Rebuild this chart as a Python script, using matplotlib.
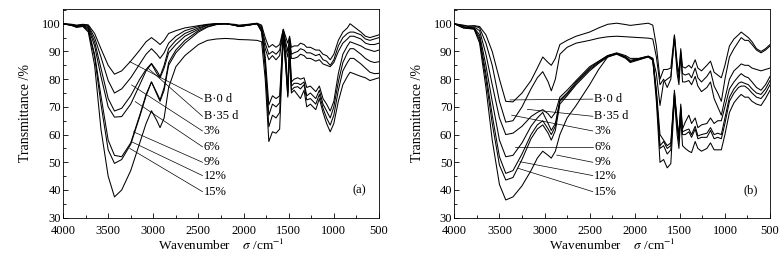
import matplotlib.pyplot as plt
from matplotlib.ticker import MultipleLocator

plt.rcParams["font.family"] = "Liberation Serif"
plt.rcParams["mathtext.fontset"] = "stix"
plt.rcParams["font.size"] = 9

# Wavenumber grid (cm-1) shared by all spectra
wavenumber = [4000, 3900, 3850, 3780, 3720, 3650, 3580, 3500, 3430, 3350,
              3250, 3150, 3080, 3020, 2960, 2925, 2880, 2830, 2750, 2650,
              2500, 2400, 2300, 2200, 2100, 2050, 1950, 1850, 1800, 1760,
              1720, 1680, 1640, 1600, 1560, 1530, 1510, 1490, 1470, 1440,
              1400, 1370, 1330, 1300, 1260, 1200, 1160, 1120, 1080, 1040,
              1000, 950, 900, 850, 820, 780, 740, 700, 650, 600,
              550, 500]

labels = ["B·0 d", "B·35 d", "3%", "6%", "9%", "12%", "15%"]

# Panel (a) transmittance (%)
a_b0 = [100, 99.8, 99.5, 99.8, 99.6, 96.5, 91, 85, 81.8, 83,
        86.5, 90.5, 93.5, 95, 93.5, 92.5, 94, 96.5, 97.5, 98.5,
        99.3, 99.8, 100, 100, 99.8, 99.5, 99.8, 100.2, 99.5, 95,
        91.5, 92.5, 91.5, 92.5, 98, 95, 93, 95.5, 91.5, 92,
        92, 93, 92.5, 91.5, 91.5, 90.5, 90.5, 89, 88.5, 87,
        89, 94, 97, 98.5, 100, 99, 98, 97, 95.5, 95,
        95.5, 96]
a_b35 = [100, 99.7, 99.3, 99.7, 99.3, 95, 88, 79.5, 75, 76.5,
         80.5, 85.5, 89, 91, 89, 87.5, 89.5, 93, 95.5, 97.5,
         99, 99.7, 100, 100, 99.6, 99.3, 99.7, 100.1, 99, 93,
         89, 90, 89, 90.5, 98, 93, 90, 95, 89, 89.5,
         90, 91, 90.5, 89.5, 89.5, 88.5, 89, 87, 86.5, 85,
         87, 92, 95, 96.5, 97, 97, 96.5, 96, 94.5, 94,
         94.5, 95]
a_3 = [100, 99.5, 99, 99.5, 99, 93.5, 84, 73, 68.5, 69.5,
       74, 80, 83.5, 85.7, 83, 81, 85, 91, 94, 96.5,
       98.5, 99.5, 100, 100, 99.5, 99, 99.5, 100, 98.5, 91,
       87, 88.5, 87, 88.5, 97.5, 91, 88, 94, 87.5, 87.5,
       88, 89, 88.5, 87.5, 87.5, 86.5, 87, 85.5, 85, 84.5,
       86, 90, 93, 94.5, 95.5, 95.5, 95, 94.5, 93, 92.5,
       92.5, 93]
a_6 = [100, 99.5, 99, 99.4, 98.5, 92, 81, 70, 66.3, 66.5,
       71, 78, 83, 85.5, 82, 80.5, 84, 89.5, 92.5, 95.5,
       98, 99.5, 100, 100, 99.5, 99, 99.5, 100, 98, 88,
       70.7, 74, 73, 74, 97, 88, 76, 93, 79, 80,
       80.5, 80, 80.5, 77, 77.5, 75.5, 77.5, 73, 71, 68.5,
       72, 82, 89, 92, 93.5, 93, 92.5, 92, 91, 90.5,
       90, 90.5]
a_9 = [100, 99.5, 99, 99.3, 98, 89, 74, 58, 52.5, 52,
       57, 67, 74.5, 79, 75, 72.5, 77, 86, 90.5, 94,
       97.5, 99, 99.8, 100, 99.5, 99, 99.5, 100, 97.5, 86,
       67, 71, 70, 71.5, 96.5, 86, 75, 92, 77.5, 78.5,
       78.5, 78, 79, 74, 75, 73, 76, 71, 68.5, 66,
       70, 79, 86, 89.5, 91, 91, 90, 89, 87.5, 86.5,
       86, 86.3]
a_12 = [100, 99.4, 98.8, 99.2, 97.5, 88, 71, 54.5, 49.6, 51,
        56.5, 66.5, 74, 79, 74.5, 72, 76, 85, 89.5, 93,
        97, 98.8, 99.7, 100, 99.5, 99, 99.5, 100, 97, 84,
        62.8, 67, 66, 68, 96, 84, 74, 91, 76, 77,
        77.3, 76.5, 78, 72.5, 73, 71, 74.5, 69.5, 66, 63.4,
        67, 76, 83, 86, 87.5, 87.5, 86.5, 85.5, 84, 82.5,
        82, 82.1]
a_15 = [100, 99.3, 98.7, 99, 97, 85, 62, 45, 37.5, 40,
        47, 57, 64, 68.6, 65, 62.5, 66, 77, 84.5, 88.5,
        92.5, 94, 94.5, 94.7, 94.5, 94.3, 94.2, 94, 93.5, 80,
        57.5, 61, 60.5, 62, 95, 83, 73.5, 89.5, 75, 76,
        74.3, 73, 76, 70, 71, 69, 73, 68, 64, 61,
        64, 72, 78, 81, 82.5, 82, 81.5, 81, 80.5, 79.5,
        80, 80.5]

# Panel (b) transmittance (%)
b_b0 = [100, 99.5, 99.2, 99.3, 99, 96, 90, 80, 72, 71.8,
        75, 79.5, 84, 88, 86, 85, 87.5, 92.5, 94, 95.5,
        97, 98.5, 99.8, 100.2, 99.7, 99.4, 99.8, 100.2, 99.5, 92,
        80, 83.5, 83.5, 84, 96, 86, 82, 91, 84.5, 84,
        85, 84, 87, 84, 83, 85, 86.5, 82.5, 81.5, 80.5,
        85, 92, 94.5, 96, 97, 96, 95, 93.5, 91, 90,
        91, 92.5]
b_b35 = [100, 99.3, 99, 99.2, 98.5, 93, 85, 72, 64.5, 65,
         70, 76.5, 80.5, 82.7, 79, 75.8, 80, 89, 91.5, 93,
         94, 94.8, 95.3, 95.5, 95.3, 95.2, 95, 94.8, 94.5, 88,
         78, 80, 77, 80, 95.5, 84, 80, 90, 82, 81.5,
         82, 80.5, 84, 80.5, 79, 81, 83, 77.5, 75, 72,
         80, 88, 91, 93.5, 95, 94, 94, 92.5, 90.5, 89.5,
         90.5, 92]
b_3 = [100, 99, 98.5, 98.8, 97.5, 89, 78, 66, 60, 60.5,
       63, 66.5, 68, 69, 67.5, 66, 68, 73.5, 76, 79.5,
       84.5, 86.5, 88.5, 89.5, 88.5, 87.5, 87.5, 88.3, 87.5, 82,
       70.5, 79, 80, 81, 95, 82, 78, 89, 79, 79,
       79.5, 78, 81, 77.5, 75.5, 77, 79, 73, 70, 67,
       73, 80, 83, 84.5, 85.5, 85, 85, 84, 83.5, 83,
       83.5, 84]
b_6 = [100, 98.8, 98.5, 98.5, 96, 85, 72, 58, 52, 52.5,
       57, 63, 66, 68, 64, 61.5, 64, 72.5, 75, 79,
       84, 86.3, 88.5, 89.3, 88, 86.8, 87.5, 88.3, 87.5, 76,
       60, 58, 56, 57, 76, 65, 60, 71, 62, 64.5,
       67, 64, 66, 62.5, 63.5, 64, 66, 64, 65, 65,
       70, 76.5, 79, 81, 82, 81, 80.5, 79, 77, 76,
       78, 81]
b_9 = [100, 98.6, 98.5, 98.3, 95, 82, 67, 52, 46, 47,
       53, 60, 63.5, 65, 62, 60, 63, 72, 74.5, 78.5,
       83.5, 86, 88.3, 89.3, 88, 86.5, 87.3, 88.2, 87.2, 75,
       56, 57.5, 55, 56, 75, 64, 58, 70, 61, 61.5,
       62, 60, 63, 59.5, 60, 60.5, 62.5, 60, 60.5, 60,
       66, 73.5, 76.5, 78.5, 79, 78.5, 78, 76.5, 75, 74.5,
       76.5, 79.5]
b_12 = [100, 98.5, 98.5, 98.2, 94, 80, 64, 49, 43.6, 44.5,
        51, 58.5, 62, 63.5, 60.5, 58, 61.5, 71, 74, 78,
        83, 85.7, 88, 89.2, 87.8, 86.3, 87.2, 88.1, 87, 74.5,
        55, 56, 53, 54.5, 74.5, 63, 57.5, 69.5, 60, 60,
        61, 59, 62, 58.5, 59, 59, 61.5, 58.5, 59, 58.5,
        64, 72, 75, 77, 77.5, 77.5, 76.5, 75, 73.5, 73,
        75, 78]
b_15 = [100, 98.5, 98.3, 98, 93, 77, 58, 42, 36.4, 37.5,
        41.5, 47, 51.5, 54, 52.5, 51.5, 54, 60, 66, 70.5,
        78, 83.5, 88, 89, 87.5, 86, 87, 88, 86.8, 72,
        50, 51, 48, 49.5, 73, 60, 55, 66, 56, 55,
        54, 53.5, 57.5, 55, 54, 55, 57, 54.5, 54.5, 54.5,
        60, 68, 71.5, 73.5, 74.5, 73.5, 73.5, 72, 71, 70.5,
        73, 76]

# label text heights and leader-line anchors (wavenumber, transmittance)
label_y = [72.8, 66.6, 61.3, 55.6, 50.0, 45.2, 39.4]
a_anchor = [(3260, 86.3), (3060, 84), (3240, 77.9), (3200, 71.9),
            (3220, 61), (3240, 57.4), (3260, 55)]
b_anchor = [(3383, 72.5), (3190, 69.1), (3364, 67), (3327, 55.6),
            (2865, 52.6), (3272, 50.2), (3290, 47.8)]

fig = plt.figure(figsize=(7.82, 2.56), dpi=100)
ax_a = fig.add_axes([0.0806, 0.1496, 0.404, 0.815])
ax_b = fig.add_axes([0.581, 0.1496, 0.4037, 0.815])

panels = [
    (ax_a, [a_b0, a_b35, a_3, a_6, a_9, a_12, a_15], a_anchor, "(a)", 2440),
    (ax_b, [b_b0, b_b35, b_3, b_6, b_9, b_12, b_15], b_anchor, "(b)", 2450),
]

for ax, curves, anchors, tag, text_x in panels:
    for values in curves:
        ax.plot(wavenumber, values, color="black", linewidth=0.75)

    for lab, ty, (ax_x, ax_y) in zip(labels, label_y, anchors):
        ax.plot([ax_x, text_x + 15], [ax_y, ty], color="black", linewidth=0.5)
        ax.text(text_x, ty, lab, ha="left", va="center", fontsize=9)

    ax.text(640, 40, tag, ha="right", va="center", fontsize=9)

    ax.set_xlim(4000, 500)
    ax.set_ylim(30, 105.3)
    ax.xaxis.set_major_locator(MultipleLocator(500))
    ax.xaxis.set_minor_locator(MultipleLocator(250))
    ax.yaxis.set_major_locator(MultipleLocator(10))
    ax.yaxis.set_minor_locator(MultipleLocator(5))
    ax.tick_params(which="both", direction="in", top=False, right=False,
                   labelsize=9)
    ax.tick_params(axis="x", pad=5.5)
    ax.tick_params(axis="y", pad=1.5)
    ax.tick_params(which="major", length=3.5, width=0.6)
    ax.tick_params(which="minor", length=2, width=0.6)
    for spine in ax.spines.values():
        spine.set_linewidth(0.6)
    ax.set_xlabel(r"Wavenumber    $\sigma$ /cm$^{-1}$", fontsize=9.5, labelpad=0.5)
    ax.set_ylabel("Transmittance /%", fontsize=10, labelpad=7)

plt.savefig("out.png", dpi=100)
